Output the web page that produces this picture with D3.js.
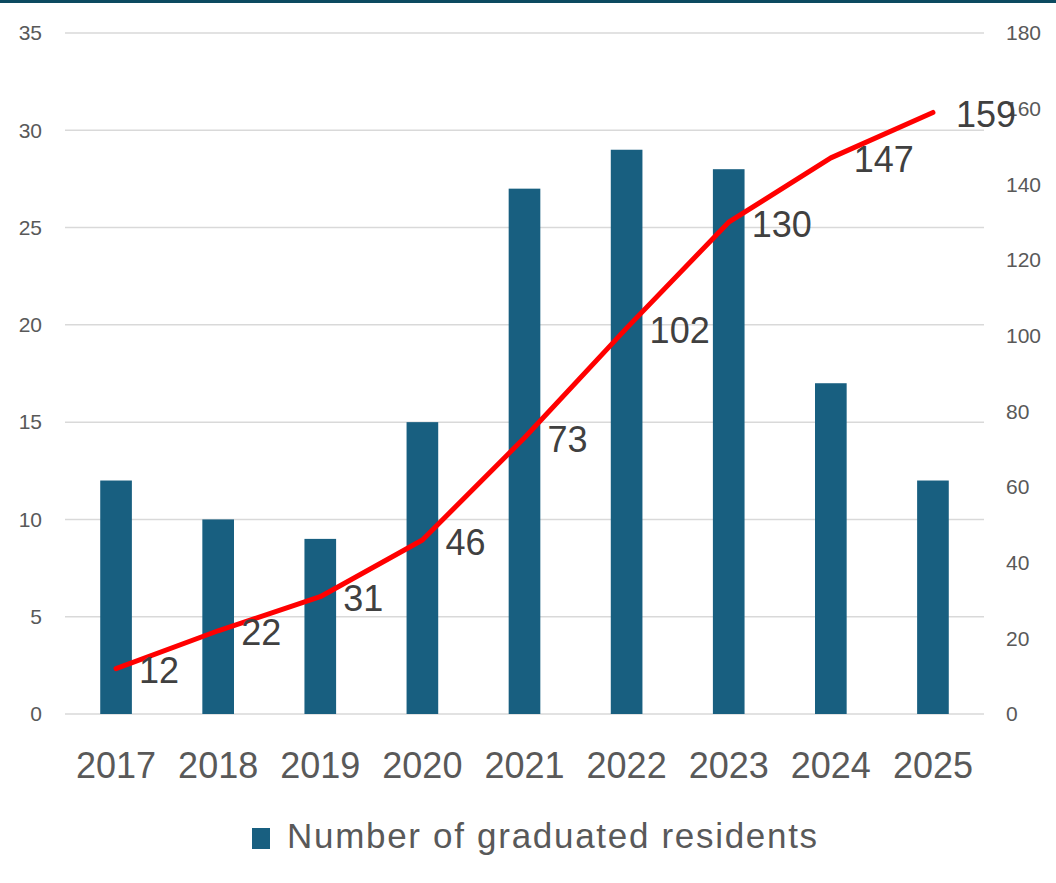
<!DOCTYPE html>
<html>
<head>
<meta charset="utf-8">
<script src="https://cdn.jsdelivr.net/npm/d3@7"></script>
<style>
  body { margin: 0; background: #fff; }
  text { font-family: "Liberation Sans", Arial, sans-serif; }
</style>
</head>
<body>
<div id="chart"></div>
<script>
// data
const years = ["2017", "2018", "2019", "2020", "2021", "2022", "2023", "2024", "2025"];
const graduated = [12, 10, 9, 15, 27, 29, 28, 17, 12];
const cumulative = [12, 22, 31, 46, 73, 102, 130, 147, 159];
const leftTicks = [0, 5, 10, 15, 20, 25, 30, 35];
const rightTicks = [0, 20, 40, 60, 80, 100, 120, 140, 160, 180];
const legendLabel = "Number of graduated residents";

const width = 1056, height = 883;
const margin = {top: 33, left: 65, right: 72, bottom: 169};

const svg = d3.select("#chart").append("svg")
  .attr("width", width)
  .attr("height", height);

// dark band across the top
svg.append("rect")
  .attr("x", 0).attr("y", 0)
  .attr("width", width).attr("height", 3)
  .attr("fill", "#0c4a60");

const x = d3.scaleBand()
  .domain(years)
  .range([margin.left, width - margin.right])
  .paddingInner(0.69)
  .paddingOuter(0.345);

const yL = d3.scaleLinear().domain([0, 35]).range([height - margin.bottom, margin.top]);
const yR = d3.scaleLinear().domain([0, 180]).range([height - margin.bottom, margin.top]);

// gridlines
svg.append("g")
  .selectAll("line")
  .data(leftTicks)
  .join("line")
    .attr("x1", margin.left)
    .attr("x2", width - margin.right)
    .attr("y1", d => yL(d))
    .attr("y2", d => yL(d))
    .attr("stroke", "#d9d9d9")
    .attr("stroke-width", 1.5);

// left axis labels
svg.append("g")
  .selectAll("text")
  .data(leftTicks)
  .join("text")
    .attr("x", 42)
    .attr("y", d => yL(d))
    .attr("dy", "0.35em")
    .attr("text-anchor", "end")
    .attr("font-size", 21)
    .attr("fill", "#595959")
    .text(d => d);

// right axis labels
svg.append("g")
  .selectAll("text")
  .data(rightTicks)
  .join("text")
    .attr("x", 1006)
    .attr("y", d => yR(d))
    .attr("dy", "0.35em")
    .attr("text-anchor", "start")
    .attr("font-size", 21)
    .attr("fill", "#595959")
    .text(d => d);

// bars
svg.append("g")
  .selectAll("rect")
  .data(graduated)
  .join("rect")
    .attr("x", (d, i) => x(years[i]))
    .attr("y", d => yL(d))
    .attr("width", x.bandwidth())
    .attr("height", d => yL(0) - yL(d))
    .attr("fill", "#185f80");

// year labels
svg.append("g")
  .selectAll("text")
  .data(years)
  .join("text")
    .attr("x", d => x(d) + x.bandwidth() / 2)
    .attr("y", 765)
    .attr("dy", "0.35em")
    .attr("text-anchor", "middle")
    .attr("font-size", 36)
    .attr("fill", "#595959")
    .text(d => d);

// cumulative line
const cx = i => x(years[i]) + x.bandwidth() / 2;
const line = d3.line()
  .x((d, i) => cx(i))
  .y(d => yR(d));

svg.append("path")
  .datum(cumulative)
  .attr("d", line)
  .attr("fill", "none")
  .attr("stroke", "#ff0000")
  .attr("stroke-width", 5)
  .attr("stroke-linecap", "round")
  .attr("stroke-linejoin", "round");

// line labels (the last one sits over the "160" tick, as in the original)
svg.append("g")
  .selectAll("text")
  .data(cumulative)
  .join("text")
    .attr("x", (d, i) => cx(i) + 23)
    .attr("y", d => yR(d) + 2)
    .attr("dy", "0.35em")
    .attr("font-size", 36)
    .attr("fill", "#404040")
    .text(d => d);

// legend
const legend = svg.append("g");
legend.append("rect")
  .attr("x", 252).attr("y", 828)
  .attr("width", 18).attr("height", 21)
  .attr("fill", "#185f80");
legend.append("text")
  .attr("x", 287)
  .attr("y", 836)
  .attr("dy", "0.35em")
  .attr("font-size", 35)
  .attr("letter-spacing", 1.7)
  .attr("fill", "#595959")
  .text(legendLabel);
</script>
</body>
</html>
